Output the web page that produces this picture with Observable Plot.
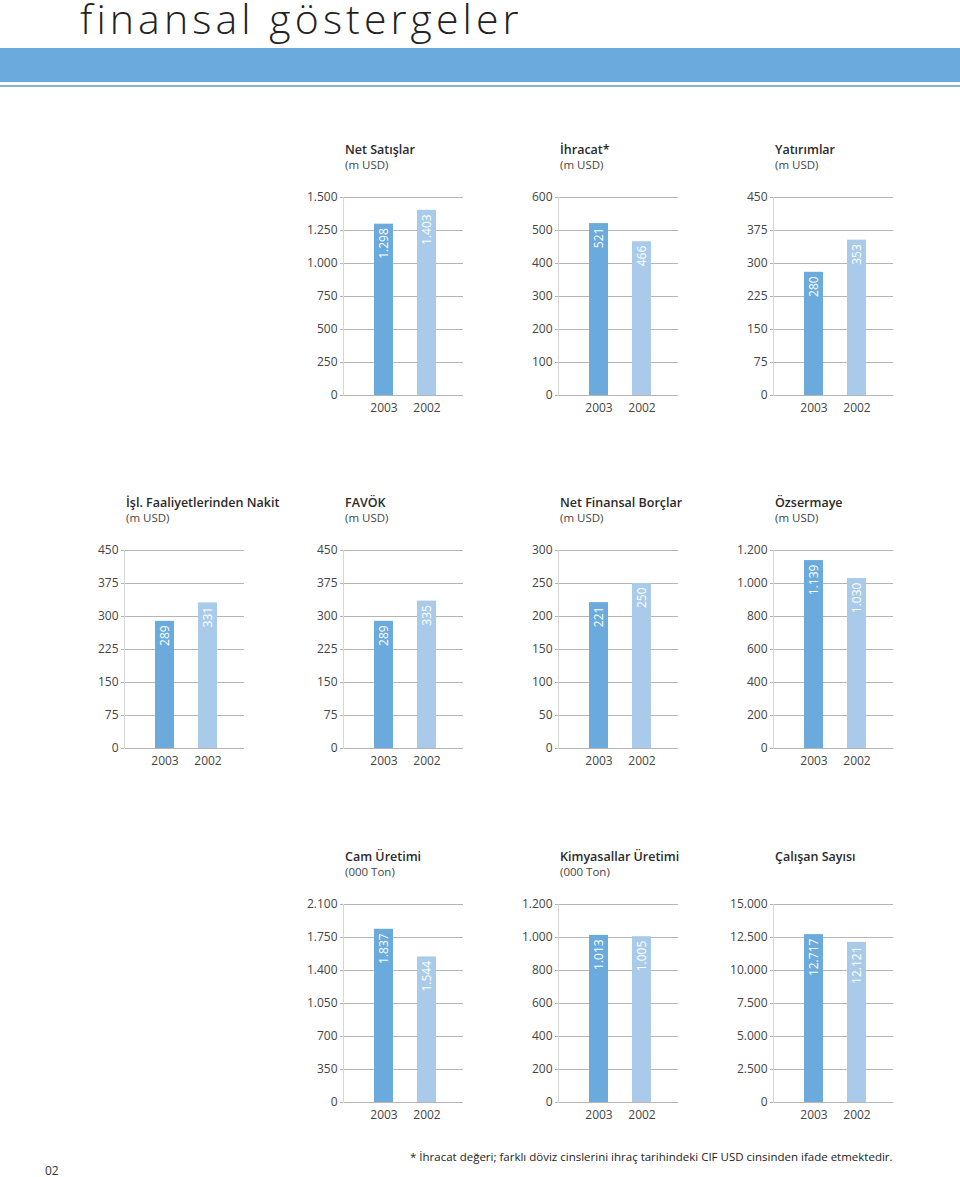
<!DOCTYPE html>
<html>
<head>
<meta charset="utf-8">
<script src="https://cdn.jsdelivr.net/npm/d3@7"></script>
<script src="https://cdn.jsdelivr.net/npm/@observablehq/plot@0.6"></script>
<style>
  html, body { margin: 0; padding: 0; background: #fff; }
  body { width: 960px; height: 1177px; position: relative; overflow: hidden; font-family: "Open Sans", sans-serif; color: #333; }
  #title { position: absolute; left: 80px; top: 3px; font-size: 41px; font-weight: 300; letter-spacing: 4.1px; color: #222; white-space: nowrap; line-height: 30px; }
  #band { position: absolute; left: 0; top: 48px; width: 960px; height: 34px; background: #6aaadc; }
  #band2 { position: absolute; left: 0; top: 85px; width: 960px; height: 2px; background: #8ab2d2; }
  .block { position: absolute; width: 175px; height: 290px; }
  .ctitle { position: absolute; font-size: 12.5px; font-weight: 600; color: #2a2a2a; white-space: nowrap; line-height: 16px; }
  .cunit { position: absolute; font-size: 11.5px; color: #444; white-space: nowrap; line-height: 14px; }
  .block svg { position: absolute; max-width: none !important; }
  #pageno { position: absolute; left: 45px; top: 1162px; font-size: 12px; color: #333; }
  #note { position: absolute; left: 410px; top: 1149px; font-size: 11.5px; color: #222; white-space: nowrap; }
</style>
</head>
<body>
<div id="title">finansal göstergeler</div>
<div id="band"></div>
<div id="band2"></div>
<div id="charts"></div>
<div id="pageno">02</div>
<div id="note">* İhracat değeri; farklı döviz cinslerini ihraç tarihindeki CIF USD cinsinden ifade etmektedir.</div>
<script>
// ---- data ----
const years = ["2003", "2002"];
const chartTitles = ["Net Satışlar", "İhracat*", "Yatırımlar", "İşl. Faaliyetlerinden Nakit", "FAVÖK", "Net Finansal Borçlar", "Özsermaye", "Cam Üretimi", "Kimyasallar Üretimi", "Çalışan Sayısı"];
const chartUnits = ["(m USD)", "(m USD)", "(m USD)", "(m USD)", "(m USD)", "(m USD)", "(m USD)", "(000 Ton)", "(000 Ton)", ""];
const values2003 = [1298, 521, 280, 289, 289, 221, 1139, 1837, 1013, 12717];
const values2002 = [1403, 466, 353, 331, 335, 250, 1030, 1544, 1005, 12121];
const tickSteps = [250, 100, 75, 75, 75, 50, 200, 350, 200, 2500];

// ---- layout ----
const rowCols = [[1, 2, 3], [0, 1, 2, 3], [1, 2, 3]];
const colAxisX = [124, 343, 558, 773];
const rowGridTop = [197, 550, 904];
const ML = 50, MR = 5, MT = 10, MB = 25, PW = 120, PH = 198;

const fmt = d3.formatLocale({decimal: ",", thousands: ".", grouping: [3], currency: ["", ""]}).format(",d");

function makeChart(i) {
  const step = tickSteps[i];
  const ticks = d3.range(7).map(k => k * step);
  const data = years.map((y, j) => ({year: y, value: j === 0 ? values2003[i] : values2002[i]}));
  return Plot.plot({
    width: ML + PW + MR,
    height: MT + PH + MB,
    marginLeft: ML, marginRight: MR, marginTop: MT, marginBottom: MB,
    style: {fontFamily: "Open Sans", fontSize: "12px", color: "#444", background: "transparent", overflow: "visible"},
    x: {domain: years, paddingInner: 0.56, paddingOuter: 0.66, align: 0.53, label: null},
    y: {domain: [0, 6 * step], label: null},
    color: {domain: years, range: ["#6aaadc", "#a9cbe9"]},
    marks: [
      Plot.gridY(ticks, {stroke: "#b5b5b5", strokeOpacity: 1}),
      Plot.frame({anchor: "left", stroke: "#d6d6d6"}),
      Plot.axisY(ticks, {tickSize: 3, tickPadding: 3, tickFormat: fmt, stroke: "#b5b5b5", fill: "#444", label: null}),
      Plot.axisX({tickSize: 0, tickPadding: 8, label: null, fill: "#444"}),
      Plot.barY(data, {x: "year", y: "value", fill: "year"}),
      Plot.text(data, {x: "year", y: "value", text: d => fmt(d.value), rotate: -90, textAnchor: "end", dy: 4, fill: "white", fontSize: 12})
    ]
  });
}

const container = document.getElementById("charts");
let idx = 0;
rowCols.forEach((cols, r) => {
  cols.forEach(c => {
    const i = idx++;
    const block = document.createElement("div");
    block.className = "block";
    block.style.left = (colAxisX[c] - ML) + "px";
    block.style.top = (rowGridTop[r] - 56) + "px";
    const t = document.createElement("div");
    t.className = "ctitle";
    t.textContent = chartTitles[i];
    t.style.left = (ML + 2) + "px";
    t.style.top = "1px";
    block.appendChild(t);
    const u = document.createElement("div");
    u.className = "cunit";
    u.textContent = chartUnits[i];
    u.style.left = (ML + 2) + "px";
    u.style.top = "17px";
    block.appendChild(u);
    const svg = makeChart(i);
    svg.style.left = "0px";
    svg.style.top = (56 - MT) + "px";
    svg.style.maxWidth = "none";
    block.appendChild(svg);
    container.appendChild(block);
  });
});
</script>
</body>
</html>
